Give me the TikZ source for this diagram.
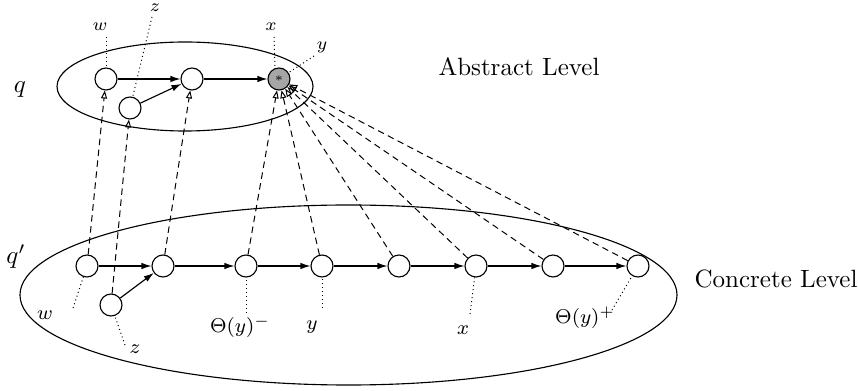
\documentclass[tikz,border=0pt]{standalone}
\usetikzlibrary{arrows.meta}
\begin{document}
\begin{tikzpicture}[x=0.4pt,y=-0.4pt,
  st/.style={circle,draw,minimum size=8.8pt,inner sep=0pt,line width=0.45pt},
  gst/.style={st,fill=black!35},
  flow/.style={-{Latex[length=4pt,width=2.6pt]},line width=0.45pt},
  abst/.style={dash pattern=on 2.6pt off 1.8pt,-{Triangle[open,length=3.2pt,width=2.4pt]},line width=0.4pt},
  lab/.style={dash pattern=on 0.4pt off 1.2pt,line width=0.4pt},
  slab/.style={inner sep=0pt,font=\scriptsize},
  clab/.style={inner sep=0pt,font=\footnotesize},
  lvl/.style={inner sep=0pt,font=\normalsize}]
\useasboundingbox (0,0) rectangle (858,391);
% ellipses
\draw[line width=0.45pt] (185,86.5) ellipse [x radius=51.2pt, y radius=17.8pt];
\draw[line width=0.45pt] (348.5,295) ellipse [x radius=131.4pt, y radius=36pt];
% abstract states
\node[st] (aw) at (106,79) {};
\node[st] (am) at (192,79) {};
\node[gst] (ax) at (279,79) {\tiny$*$};
\node[st] (az) at (130,108) {};
% concrete states
\node[st] (c1) at (87,266) {};
\node[st] (c2) at (163,266) {};
\node[st] (c3) at (246,266) {};
\node[st] (c4) at (322,266) {};
\node[st] (c5) at (399,266) {};
\node[st] (c6) at (476,266) {};
\node[st] (c7) at (553,266) {};
\node[st] (c8) at (638,266) {};
\node[st] (cz) at (111,305) {};
% transitions
\draw[flow] (aw) -- (am);
\draw[flow] (am) -- (ax);
\draw[flow] (az) -- (am);
\draw[flow] (c1) -- (c2);
\draw[flow] (cz) -- (c2);
\draw[flow] (c2) -- (c3);
\draw[flow] (c3) -- (c4);
\draw[flow] (c4) -- (c5);
\draw[flow] (c5) -- (c6);
\draw[flow] (c6) -- (c7);
\draw[flow] (c7) -- (c8);
% abstraction
\draw[abst] (c1) -- (aw);
\draw[abst] (cz) -- (az);
\draw[abst] (c2) -- (am);
\draw[abst] (c3) -- (ax);
\draw[abst] (c4) -- (ax);
\draw[abst] (c5) -- (ax);
\draw[abst] (c6) -- (ax);
\draw[abst] (c7) -- (ax);
\draw[abst] (c8) -- (ax);
% level labels
\node[lvl] (q) at (20,90) {$q$};
\node[lvl] (qp) at (16,257) {$q'$};
\node[lvl,anchor=west] (al) at (438,67) {Abstract Level};
\node[lvl,anchor=east] (cl) at (858,279) {Concrete Level};
% abstract variable labels
\node[slab] (lw) at (100,27) {$w$};
\node[slab] (lz) at (155,8) {$z$};
\node[slab] (lx) at (271,27) {$x$};
\node[slab] (ly) at (322,47) {$y$};
\coordinate (ew) at (106,37);
\coordinate (ez) at (152,17);
\coordinate (ex) at (274,37);
\coordinate (ey) at (314,56);
\draw[lab] (ew) -- (aw);
\draw[lab] (ez) -- (az);
\draw[lab] (ex) -- (ax.110);
\draw[lab] (ey) -- (ax);
% concrete variable labels
\node[clab] (lcw) at (45,315) {$w$};
\node[clab] (lcz) at (135,349) {$z$};
\node[clab] (lcm) at (240,327) {$\Theta(y)^{-}$};
\node[clab] (lcy) at (312,327) {$y$};
\node[clab] (lcx) at (463,330) {$x$};
\node[clab] (lcp) at (585,318) {$\Theta(y)^{+}$};
\coordinate (fw) at (73,308);
\coordinate (fz) at (125,345);
\coordinate (fm) at (246,313);
\coordinate (fy) at (322,308);
\coordinate (fx) at (470,314);
\coordinate (fp) at (612,310);
\draw[lab] (fw) -- (c1);
\draw[lab] (fz) -- (cz);
\draw[lab] (fm) -- (c3);
\draw[lab] (fy) -- (c4);
\draw[lab] (fx) -- (c6);
\draw[lab] (fp) -- (c8);
\end{tikzpicture}
\end{document}
